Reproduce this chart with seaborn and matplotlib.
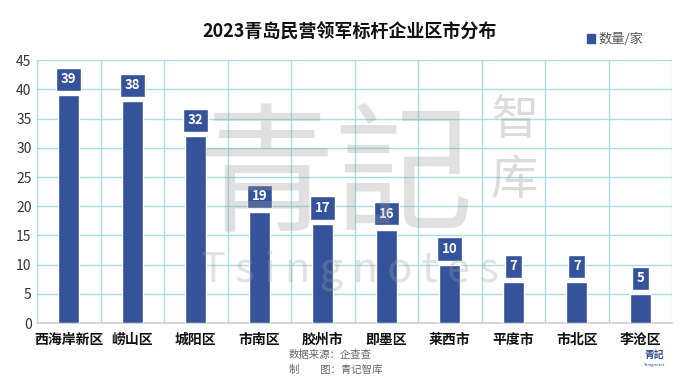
import matplotlib
matplotlib.use("Agg")
import matplotlib.pyplot as plt
import seaborn as sns
import pandas as pd

districts = ["西海岸新区", "崂山区", "城阳区", "市南区", "胶州市", "即墨区", "莱西市", "平度市", "市北区", "李沧区"]
counts = [39, 38, 32, 19, 17, 16, 10, 7, 7, 5]
y_ticks = [0, 5, 10, 15, 20, 25, 30, 35, 40, 45]

BAR = "#34539b"
GRID = "#a8dde3"

sns.set_theme(style="white")
plt.rcParams["font.family"] = ["Noto Sans CJK SC", "DejaVu Sans"]

df = pd.DataFrame({"区市": districts, "数量": counts})

fig = plt.figure(figsize=(7, 3.78), dpi=100)
ax = fig.add_axes([0.053, 0.145, 0.907, 0.696])

sns.barplot(data=df, x="区市", y="数量", color=BAR, width=0.33, ax=ax, zorder=3, saturation=1)

ax.set_ylim(0, 45)
ax.set_yticks(y_ticks)
ax.set_xlim(-0.5, len(districts) - 0.5)
ax.set_xticks(range(len(districts)))
ax.set_xticklabels(districts, fontsize=10, fontweight="bold", color="#111111")
ax.tick_params(axis="y", labelsize=10, colors="#333333", length=0, pad=4)
ax.tick_params(axis="x", length=0, pad=7)
for y in y_ticks[1:]:
    ax.axhline(y, color=GRID, lw=1, zorder=1)
for i in range(len(districts) + 1):
    ax.axvline(i - 0.5, color=GRID, lw=1, zorder=1)
for s in ["top", "right", "left"]:
    ax.spines[s].set_visible(False)
ax.spines["bottom"].set_color("#d0d0d0")
ax.set_xlabel("")
ax.set_ylabel("")

for i, v in enumerate(counts):
    ax.text(i, v + 2.7, str(v), ha="center", va="center", fontsize=9.5, fontweight="bold",
            color="white", zorder=4,
            bbox=dict(boxstyle="square,pad=0.35", fc=BAR, ec="white", lw=1))

# watermark (faint, drawn on top like the original)
fig.text(0.48, 0.52, "青記", fontsize=100, color="#9a9a9a", alpha=0.3,
         ha="center", va="center", fontweight="normal")
fig.text(0.735, 0.68, "智", fontsize=34, color="#9a9a9a", alpha=0.35, ha="center", va="center")
fig.text(0.735, 0.52, "库", fontsize=34, color="#9a9a9a", alpha=0.35, ha="center", va="center")
fig.text(0.50, 0.285, "T s i n g n o t e s", fontsize=30, color="#a0a0a0", alpha=0.3,
         ha="center", va="center", fontweight="light")

fig.text(0.5, 0.915, "2023青岛民营领军标杆企业区市分布", ha="center", va="center",
         fontsize=13, fontweight="bold", color="#111111")
fig.patches.append(plt.Rectangle((0.838, 0.885), 0.012, 0.025, transform=fig.transFigure,
                                 color=BAR, figure=fig))
fig.text(0.855, 0.897, "数量/家", ha="left", va="center", fontsize=9.5, color="#555555")

fig.text(0.413, 0.062, "数据来源：企查查", ha="left", va="center", fontsize=7.5, color="#666666")
fig.text(0.413, 0.022, "制　　图：青记智库", ha="left", va="center", fontsize=7.5, color="#666666")
fig.text(0.935, 0.06, "青記", ha="center", va="center", fontsize=7, color="#2e4a8c", fontweight="bold")
fig.text(0.935, 0.035, "Tsingnotes", ha="center", va="center", fontsize=3, color="#2e4a8c")

fig.savefig("out.png", dpi=100, facecolor="white")
